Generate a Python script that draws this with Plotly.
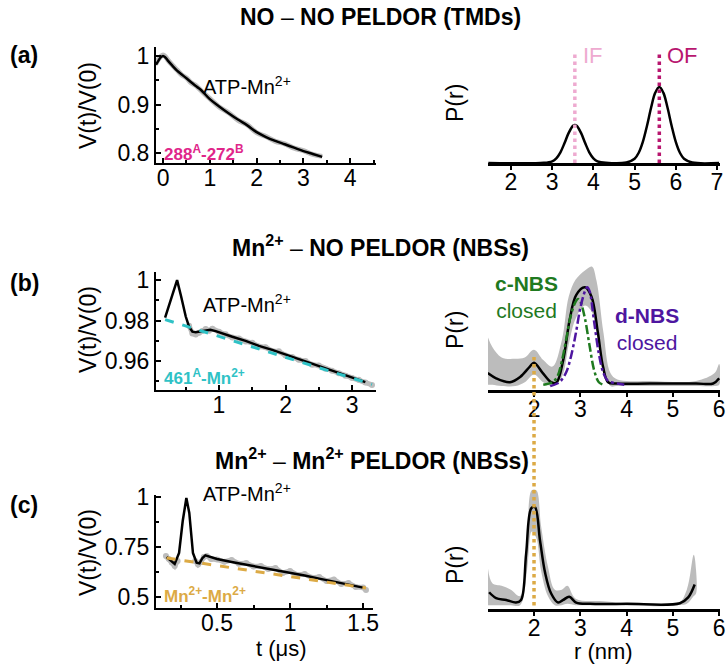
import plotly.graph_objects as go

# ---------------- data ----------------
# (a) NO-NO PELDOR, TMDs: time trace (fit + experimental) and distance distribution
t_a = [-0.15, -0.10, -0.05, 0.0, 0.05, 0.10, 0.20, 0.30, 0.40, 0.50, 0.60, 0.70, 0.80,
       1.0, 1.2, 1.4, 1.6, 1.8, 2.0, 2.2, 2.4, 2.6, 2.8, 3.0, 3.2, 3.4]
V_a_fit = [0.982, 0.990, 0.997, 1.000, 0.997, 0.991, 0.980, 0.970, 0.962, 0.954, 0.946, 0.938, 0.931,
           0.911, 0.896, 0.882, 0.869, 0.857, 0.843, 0.833, 0.825, 0.818, 0.811, 0.804, 0.798, 0.792]
V_a_exp = [0.984, 0.993, 0.999, 1.002, 0.999, 0.992, 0.981, 0.971, 0.961, 0.955, 0.945, 0.939, 0.930,
           0.912, 0.895, 0.883, 0.868, 0.858, 0.842, 0.834, 0.824, 0.819, 0.810, 0.805, 0.797, 0.793]

r_a = [1.45, 2.8, 3.0, 3.1, 3.2, 3.3, 3.4, 3.5, 3.55, 3.6, 3.7, 3.8, 3.9, 4.0, 4.1, 4.3,
       4.8, 5.0, 5.1, 5.2, 5.3, 5.4, 5.5, 5.6, 5.7, 5.8, 5.9, 6.0, 6.1, 6.2, 6.4, 7.05]
P_a = [0.0, 0.002, 0.022, 0.062, 0.141, 0.262, 0.396, 0.487, 0.500, 0.487, 0.396, 0.262, 0.141, 0.062, 0.022, 0.002,
       0.006, 0.056, 0.135, 0.278, 0.487, 0.726, 0.923, 1.000, 0.923, 0.726, 0.487, 0.278, 0.135, 0.056, 0.006, 0.0]
r_IF = 3.55
r_OF = 5.6

# (b) Mn2+-NO PELDOR, NBSs
t_b = [0.19, 0.25, 0.30, 0.37, 0.43, 0.50, 0.55, 0.60, 0.65, 0.72, 0.80, 0.87, 0.95, 1.0,
       1.2, 1.4, 1.6, 1.8, 2.0, 2.2, 2.4, 2.6, 2.8, 3.0, 3.2]
V_b_fit = [0.9815, 0.988, 0.993, 1.000, 0.992, 0.982, 0.977, 0.9745, 0.9742, 0.9745, 0.9752, 0.9755, 0.9748, 0.9742,
           0.972, 0.970, 0.9675, 0.9655, 0.9632, 0.961, 0.9587, 0.9564, 0.954, 0.9518, 0.9496]
t_b_exp = [0.55, 0.60, 0.65, 0.70, 0.75, 0.80, 0.85, 0.90, 1.0, 1.1, 1.2, 1.3, 1.4, 1.5, 1.6, 1.7, 1.8, 1.9,
           2.0, 2.1, 2.2, 2.3, 2.4, 2.5, 2.6, 2.7, 2.8, 2.9, 3.0, 3.1, 3.2, 3.3]
V_b_exp = [0.9775, 0.9736, 0.9731, 0.9740, 0.9748, 0.9758, 0.9750, 0.9760, 0.9745, 0.9733, 0.9716, 0.9712,
           0.9697, 0.9690, 0.9672, 0.9668, 0.9650, 0.9648, 0.9628, 0.9620, 0.9606, 0.9600, 0.9582, 0.9578,
           0.9562, 0.9552, 0.9540, 0.9528, 0.9516, 0.9508, 0.9494, 0.9482]
t_b_bg = [0.19, 3.3]
V_b_bg = [0.9805, 0.9485]

r_b = [1.0, 1.18, 1.48, 1.70, 1.91, 2.0, 2.19, 2.37, 2.48, 2.63, 2.77, 2.91, 3.10, 3.24, 3.38, 3.49,
       3.60, 3.78, 4.5, 5.5, 5.87, 6.0]
P_b = [0.13, 0.09, 0.06, 0.10, 0.18, 0.21, 0.13, 0.06, 0.055, 0.23, 0.54, 0.73, 0.79, 0.72, 0.44, 0.18,
       0.06, 0.05, 0.05, 0.05, 0.05, 0.09]
r_b_band = [1.0, 1.1, 1.3, 1.6, 1.8, 2.0, 2.2, 2.4, 2.6, 2.75, 2.9, 3.1, 3.25, 3.35, 3.5, 3.65, 3.8,
            4.5, 5.5, 5.9, 6.0]
P_b_hi = [0.41, 0.33, 0.25, 0.24, 0.25, 0.31, 0.23, 0.18, 0.38, 0.72, 0.85, 0.92, 0.95, 0.84, 0.44, 0.13, 0.08,
          0.07, 0.07, 0.13, 0.20]
P_b_lo = [0.04, 0.04, 0.03, 0.03, 0.06, 0.12, 0.06, 0.03, 0.10, 0.35, 0.55, 0.65, 0.60, 0.45, 0.18, 0.03, 0.03,
          0.03, 0.03, 0.03, 0.04]
r_cNBS = [2.2, 2.4, 2.5, 2.6, 2.7, 2.8, 2.9, 2.95, 3.0, 3.1, 3.2, 3.3, 3.4, 3.5]
P_cNBS = [0.04, 0.06, 0.10, 0.22, 0.40, 0.58, 0.68, 0.70, 0.68, 0.55, 0.34, 0.15, 0.06, 0.04]
r_dNBS = [2.35, 2.5, 2.6, 2.7, 2.8, 2.9, 3.0, 3.1, 3.15, 3.2, 3.3, 3.4, 3.5, 3.6, 3.8, 3.95]
P_dNBS = [0.03, 0.05, 0.08, 0.14, 0.26, 0.43, 0.63, 0.76, 0.79, 0.76, 0.52, 0.28, 0.13, 0.07, 0.05, 0.04]

# (c) Mn2+-Mn2+ PELDOR, NBSs
t_c = [0.155, 0.18, 0.21, 0.24, 0.265, 0.29, 0.31, 0.335, 0.36, 0.38, 0.40, 0.42, 0.45, 0.5,
       0.6, 0.7, 0.8, 0.9, 1.0, 1.1, 1.2, 1.3, 1.4, 1.5]
V_c_fit = [0.700, 0.685, 0.665, 0.720, 0.880, 0.995, 0.920, 0.720, 0.672, 0.668, 0.695, 0.708, 0.700, 0.690,
           0.675, 0.662, 0.648, 0.635, 0.622, 0.607, 0.592, 0.577, 0.562, 0.547]
t_c_exp = [0.15, 0.17, 0.19, 0.21, 0.23, 0.25, 0.35, 0.37, 0.39, 0.41, 0.43, 0.46, 0.50, 0.55, 0.60, 0.65,
           0.70, 0.75, 0.80, 0.85, 0.90, 0.95, 1.00, 1.05, 1.10, 1.15, 1.20, 1.25, 1.30, 1.35, 1.40, 1.45,
           1.50, 1.52]
V_c_exp = [0.705, 0.690, 0.672, 0.655, 0.680, None, 0.680, 0.662, 0.675, 0.700, 0.705, 0.690, 0.688, 0.676,
           0.685, 0.666, 0.670, 0.652, 0.655, 0.640, 0.645, 0.620, 0.630, 0.610, 0.615, 0.596, 0.600, 0.580,
           0.588, 0.565, 0.570, 0.550, 0.548, 0.535]
t_c_bg = [0.155, 1.52]
V_c_bg = [0.695, 0.545]

r_c = [1.03, 1.18, 1.40, 1.61, 1.72, 1.83, 1.94, 2.02, 2.13, 2.24, 2.37, 2.52, 2.63, 2.76, 2.91, 3.21,
       4.0, 5.15, 5.33, 5.47]
P_c = [0.13, 0.085, 0.07, 0.05, 0.07, 0.43, 0.78, 0.79, 0.53, 0.28, 0.12, 0.05, 0.07, 0.095, 0.05, 0.04,
       0.04, 0.045, 0.09, 0.19]
r_c_band = [1.0, 1.1, 1.3, 1.5, 1.7, 1.85, 1.95, 2.05, 2.15, 2.3, 2.45, 2.6, 2.72, 2.9, 3.5, 5.1, 5.3, 5.45, 5.5]
P_c_hi = [0.33, 0.20, 0.18, 0.15, 0.10, 0.50, 0.92, 0.92, 0.65, 0.33, 0.15, 0.15, 0.18, 0.08, 0.06, 0.04,
          0.15, 0.42, 0.30]
P_c_lo = [0.03, 0.03, 0.03, 0.03, 0.03, 0.30, 0.60, 0.55, 0.30, 0.10, 0.03, 0.03, 0.04, 0.03, 0.03, 0.03,
          0.04, 0.10, 0.12]
r_MnMn = 2.0

# ---------------- styling ----------------
W, H = 727, 666
FONT = "Liberation Sans, Arial, sans-serif"
GREY = "#bcbcbc"
MAGENTA = "#e0268a"
IF_COL = "#eeaad0"
OF_COL = "#b8166f"
CYAN = "#2fc2c6"
GREEN = "#1f7a1f"
PURPLE = "#4e16a0"
ORANGE = "#dcaa45"


def px(x):
    return x / W


def py(y):
    return 1 - y / H


fig = go.Figure()

# (a) left
fig.add_trace(go.Scatter(x=t_a, y=V_a_exp, mode="lines", line=dict(color=GREY, width=5),
                         xaxis="x", yaxis="y", line_shape="spline"))
fig.add_trace(go.Scatter(x=t_a, y=V_a_fit, mode="lines", line=dict(color="black", width=2.5),
                         xaxis="x", yaxis="y", line_shape="spline"))
# (a) right
fig.add_trace(go.Scatter(x=r_a, y=P_a, mode="lines", line=dict(color="black", width=2.5),
                         xaxis="x2", yaxis="y2", line_shape="spline"))
fig.add_trace(go.Scatter(x=[r_IF, r_IF], y=[0, 1.46], mode="lines",
                         line=dict(color=IF_COL, width=3.5, dash="dot"), xaxis="x2", yaxis="y2"))
fig.add_trace(go.Scatter(x=[r_OF, r_OF], y=[0, 1.46], mode="lines",
                         line=dict(color=OF_COL, width=3.5, dash="dot"), xaxis="x2", yaxis="y2"))

# (b) left
fig.add_trace(go.Scatter(x=t_b_exp, y=V_b_exp, mode="lines+markers", line=dict(color=GREY, width=5),
                         marker=dict(color=GREY, size=6), xaxis="x3", yaxis="y3"))
fig.add_trace(go.Scatter(x=t_b, y=V_b_fit, mode="lines", line=dict(color="black", width=2.5),
                         xaxis="x3", yaxis="y3"))
fig.add_trace(go.Scatter(x=t_b_bg, y=V_b_bg, mode="lines", line=dict(color=CYAN, width=3, dash="dash"),
                         xaxis="x3", yaxis="y3"))
# (b) right
fig.add_trace(go.Scatter(x=r_b_band + r_b_band[::-1], y=P_b_hi + P_b_lo[::-1], mode="lines",
                         fill="toself", fillcolor=GREY, line=dict(width=0, color=GREY, shape="spline"),
                         xaxis="x4", yaxis="y4"))
fig.add_trace(go.Scatter(x=r_b, y=P_b, mode="lines", line=dict(color="black", width=2.5, shape="spline"),
                         xaxis="x4", yaxis="y4"))
fig.add_trace(go.Scatter(x=r_cNBS, y=P_cNBS, mode="lines",
                         line=dict(color=GREEN, width=2.5, dash="dashdot", shape="spline"),
                         xaxis="x4", yaxis="y4"))
fig.add_trace(go.Scatter(x=r_dNBS, y=P_dNBS, mode="lines",
                         line=dict(color=PURPLE, width=2.5, dash="dashdot", shape="spline"),
                         xaxis="x4", yaxis="y4"))

# (c) left
fig.add_trace(go.Scatter(x=t_c_exp, y=V_c_exp, mode="lines+markers", line=dict(color=GREY, width=5),
                         marker=dict(color=GREY, size=6), xaxis="x5", yaxis="y5", connectgaps=False))
fig.add_trace(go.Scatter(x=t_c, y=V_c_fit, mode="lines", line=dict(color="black", width=2.5),
                         xaxis="x5", yaxis="y5"))
fig.add_trace(go.Scatter(x=t_c_bg, y=V_c_bg, mode="lines", line=dict(color=ORANGE, width=3, dash="dash"),
                         xaxis="x5", yaxis="y5"))
# (c) right
fig.add_trace(go.Scatter(x=r_c_band + r_c_band[::-1], y=P_c_hi + P_c_lo[::-1], mode="lines",
                         fill="toself", fillcolor=GREY, line=dict(width=0, color=GREY, shape="spline"),
                         xaxis="x6", yaxis="y6"))
fig.add_trace(go.Scatter(x=r_c, y=P_c, mode="lines", line=dict(color="black", width=2.5, shape="spline"),
                         xaxis="x6", yaxis="y6"))

# Mn-Mn distance marker spanning panels (b) and (c)
fig.add_shape(type="line", xref="x4", yref="paper", x0=r_MnMn, x1=r_MnMn, y0=py(357), y1=py(608),
              line=dict(color=ORANGE, width=3.5, dash="dot"), layer="above")

tickfont = dict(family=FONT, size=23, color="black")


def left_x(dom, rng, vals, minor_dtick):
    return dict(domain=dom, range=rng, tickmode="array", tickvals=vals, ticks="inside", ticklen=5,
                tickwidth=1.5, tickcolor="black", showline=True, linewidth=2, linecolor="black",
                showgrid=False, zeroline=False, tickfont=tickfont, automargin=False,
                ticklabelstandoff=-7,
                minor=dict(ticks="inside", ticklen=3, dtick=minor_dtick, tickcolor="black", showgrid=False))


def left_y(dom, rng, vals, texts, minor_dtick):
    return dict(domain=dom, range=rng, tickmode="array", tickvals=vals, ticktext=texts, ticks="inside",
                ticklen=5, tickwidth=1.5, tickcolor="black", showline=True, linewidth=2, linecolor="black",
                showgrid=False, zeroline=False, tickfont=tickfont, automargin=False,
                minor=dict(ticks="inside", ticklen=3, dtick=minor_dtick, tickcolor="black", showgrid=False))


def right_x(dom, rng, vals):
    return dict(domain=dom, range=rng, tickmode="array", tickvals=vals, ticks="outside", ticklen=4,
                tickwidth=1.5, tickcolor="black", showline=True, linewidth=2.5, linecolor="black",
                showgrid=False, zeroline=False, tickfont=tickfont, automargin=False,
                ticklabelstandoff=-7)


def right_y(dom, rng):
    return dict(domain=dom, range=rng, visible=False, showgrid=False, zeroline=False, automargin=False)


XL = [px(156), px(376)]
XR = [px(488), px(720)]

fig.update_layout(
    template="none",
    width=W, height=H, margin=dict(l=0, r=0, t=0, b=0, pad=0, autoexpand=False),
    paper_bgcolor="white", plot_bgcolor="rgba(0,0,0,0)", showlegend=False,
    font=dict(family=FONT, color="black"),
    xaxis=left_x(XL, [-0.15, 4.55], [0, 1, 2, 3, 4], 0.5),
    yaxis=left_y([py(163), py(47)], [0.7794, 1.0186], [0.8, 0.9, 1.0], ["0.8", "0.9", "1"], 0.05),
    xaxis2=dict(right_x(XR, [1.442, 7.073], [2, 3, 4, 5, 6, 7]), anchor="y2"),
    yaxis2=dict(right_y([py(163), py(47)], [0, 1.526]), anchor="x2"),
    xaxis3=dict(left_x(XL, [0.053, 3.36], [1, 2, 3], 0.5), anchor="y3"),
    yaxis3=dict(left_y([py(390), py(272)], [0.9457, 1.004], [0.96, 0.98, 1.0], ["0.96", "0.98", "1"], 0.01),
                anchor="x3"),
    xaxis4=dict(right_x(XR, [1.006, 6.017], [2, 3, 4, 5, 6]), anchor="y4"),
    yaxis4=dict(right_y([py(390), py(260)], [0, 1]), anchor="x4"),
    xaxis5=dict(left_x([px(156), px(373)], [0.082, 1.568], [0.5, 1, 1.5], 0.25), anchor="y5"),
    yaxis5=dict(left_y([py(608), py(495)], [0.445, 1.01], [0.5, 0.75, 1.0], ["0.5", "0.75", "1"], 0.125),
                anchor="x5"),
    xaxis6=dict(right_x(XR, [1.006, 6.017], [2, 3, 4, 5, 6]), anchor="y6"),
    yaxis6=dict(right_y([py(609), py(480)], [0, 1]), anchor="x6"),
)


def note(text, x, y, size=22, color="black", xanchor="center", yanchor="middle", angle=0):
    fig.add_annotation(text=text, x=px(x), y=py(y), xref="paper", yref="paper", showarrow=False,
                       xanchor=xanchor, yanchor=yanchor, textangle=angle,
                       font=dict(family=FONT, size=size, color=color))


# section titles
note("<b>NO</b> – <b>NO PELDOR (TMDs)</b>", 381, 17, size=23)
note("<b>Mn<sup>2+</sup></b> – <b>NO PELDOR (NBSs)</b>", 380, 246, size=23)
note("<b>Mn<sup>2+</sup></b> – <b>Mn<sup>2+</sup> PELDOR (NBSs)</b>", 372, 459, size=23)

# panel letters
note("<b>(a)</b>", 8, 55, size=23, xanchor="left")
note("<b>(b)</b>", 8, 283, size=23, xanchor="left")
note("<b>(c)</b>", 8, 505, size=23, xanchor="left")

# y-axis titles
for yc in (106, 330, 553):
    note("V(t)/V(0)", 88, yc, size=23, angle=-90)
for yc in (103, 330, 565):
    note("P(r)", 455, yc, size=23, angle=-90)

# x-axis titles
note("t (μs)", 281, 648, size=22)
note("r (nm)", 603, 651, size=22)

# sample labels
note("ATP-Mn<sup>2+</sup>", 201, 86, size=20, xanchor="left")
note("ATP-Mn<sup>2+</sup>", 201, 303, size=20, xanchor="left")
note("ATP-Mn<sup>2+</sup>", 201, 492, size=20, xanchor="left")

note("<b>288<sup>A</sup>-272<sup>B</sup></b>", 162, 153, size=17, color=MAGENTA, xanchor="left")
note("<b>461<sup>A</sup>-Mn<sup>2+</sup></b>", 162, 377, size=17, color=CYAN, xanchor="left")
note("<b>Mn<sup>2+</sup>-Mn<sup>2+</sup></b>", 162, 595, size=17, color=ORANGE, xanchor="left")

note("IF", 581, 56, size=22, color=IF_COL, xanchor="left")
note("OF", 665, 56, size=22, color=OF_COL, xanchor="left")

# conformer labels, two lines each
note("<b>c-NBS</b><br>closed", 526, 297, size=21, color=GREEN)
note("<b>d-NBS</b><br>closed", 647, 329, size=21, color=PURPLE)

fig.write_html("out.html")
